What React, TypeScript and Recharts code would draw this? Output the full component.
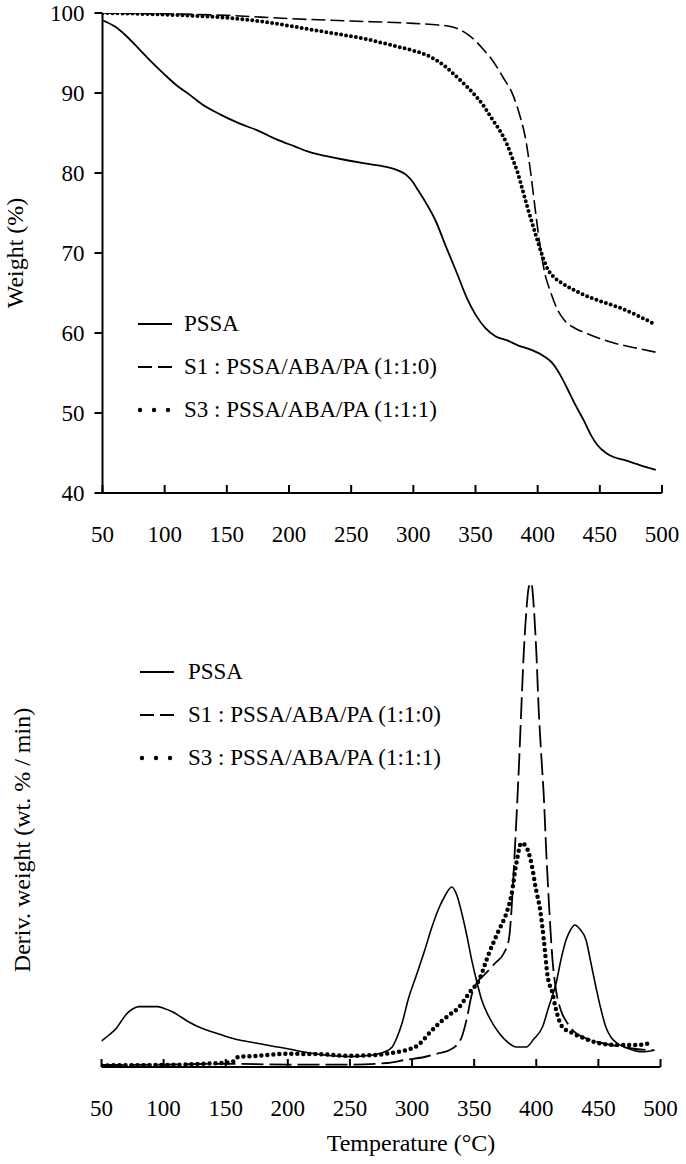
import React from "react";
import { LineChart, Line, XAxis, YAxis, Legend } from "recharts";

const FONT = '"Liberation Serif", "Times New Roman", serif';

// axis ticks
const TEMP_TICKS = [50, 100, 150, 200, 250, 300, 350, 400, 450, 500];
const WEIGHT_TICKS = [40, 50, 60, 70, 80, 90, 100];

const SERIES_NAMES = [
  "PSSA",
  "S1 : PSSA/ABA/PA (1:1:0)",
  "S3 : PSSA/ABA/PA (1:1:1)",
];

// TGA: [temperature °C, weight %]
const pssaWeight = [
  [50, 99.1], [60, 98.3], [70, 97.0], [80, 95.4], [90, 93.8], [100, 92.3],
  [110, 90.9], [120, 89.8], [130, 88.6], [145, 87.3], [160, 86.2], [175, 85.3],
  [190, 84.2], [205, 83.3], [215, 82.7], [230, 82.1], [250, 81.5], [265, 81.1],
  [280, 80.7], [288, 80.3], [294, 79.8], [299, 79.0], [304, 77.8], [310, 76.3],
  [318, 74.0], [326, 70.9], [335, 67.5], [343, 64.4], [350, 62.3], [358, 60.6],
  [366, 59.6], [375, 59.1], [385, 58.4], [395, 57.9], [405, 57.1], [412, 56.2],
  [418, 54.8], [424, 53.0], [430, 51.1], [437, 49.1], [443, 47.2], [448, 46.0],
  [455, 45.0], [461, 44.5], [470, 44.1], [480, 43.6], [488, 43.2], [495, 42.9],
];

const s1Weight = [
  [50, 100.0], [100, 99.9], [150, 99.7], [200, 99.3], [250, 99.0], [300, 98.7],
  [320, 98.5], [330, 98.3], [340, 97.7], [348, 96.8], [356, 95.5], [364, 94.0],
  [372, 92.0], [380, 89.8], [386, 87.0], [390, 84.5], [394, 80.5], [398, 75.5],
  [402, 70.8], [406, 67.3], [410, 65.3], [416, 62.9], [422, 61.5], [430, 60.6],
  [440, 59.9], [450, 59.3], [465, 58.6], [480, 58.1], [495, 57.6],
];

const s3Weight = [
  [50, 100.0], [100, 99.8], [150, 99.4], [180, 98.9], [200, 98.4], [230, 97.6],
  [260, 96.8], [287, 95.8], [300, 95.3], [314, 94.5], [325, 93.4], [335, 92.0],
  [348, 90.0], [356, 88.5], [364, 86.6], [370, 85.2], [375, 83.7], [380, 81.7],
  [384, 80.0], [388, 77.8], [392, 75.6], [398, 72.5], [403, 70.0], [408, 68.0],
  [413, 67.0], [420, 66.2], [434, 65.0], [450, 64.0], [467, 63.1], [480, 62.2],
  [493, 61.2],
];

// DTG: [temperature °C, deriv. weight]
const pssaDeriv = [
  [50, 0.65], [56, 0.8], [62, 0.97], [66, 1.15], [70, 1.32], [75, 1.45],
  [80, 1.51], [95, 1.51], [100, 1.47], [107, 1.38], [114, 1.25], [120, 1.13],
  [127, 1.02], [134, 0.93], [145, 0.82], [160, 0.68], [174, 0.6], [188, 0.52],
  [201, 0.45], [212, 0.38], [222, 0.33], [235, 0.28], [250, 0.26], [268, 0.3],
  [278, 0.38], [284, 0.5], [288, 0.75], [292, 1.1], [297, 1.7], [303, 2.25],
  [310, 2.9], [316, 3.5], [322, 4.0], [326, 4.25], [332, 4.5], [336, 4.3],
  [340, 3.85], [344, 3.3], [348, 2.68], [352, 2.15], [356, 1.68], [362, 1.25],
  [370, 0.85], [377, 0.62], [384, 0.5], [392, 0.5], [398, 0.7], [405, 1.0],
  [410, 1.5], [416, 2.1], [420, 2.7], [424, 3.18], [428, 3.45], [431, 3.55],
  [435, 3.45], [440, 3.18], [444, 2.6], [448, 2.0], [452, 1.45], [456, 1.0],
  [460, 0.75], [465, 0.6], [475, 0.45], [485, 0.38], [495, 0.42],
];

const s1Deriv = [
  [50, 0.05], [100, 0.06], [150, 0.08], [200, 0.06], [250, 0.06], [280, 0.1],
  [295, 0.18], [310, 0.25], [322, 0.35], [330, 0.42], [336, 0.55], [340, 0.75],
  [344, 1.2], [348, 1.8], [352, 2.1], [358, 2.3], [367, 2.6], [374, 2.85],
  [378, 3.2], [380, 3.9], [382, 5.0], [384, 6.2], [386, 7.5], [388, 9.0],
  [390, 10.4], [392, 11.4], [394, 12.0], [396, 12.1], [398, 11.5], [400, 10.4],
  [402, 8.9], [404, 7.8], [406, 6.8], [408, 5.4], [410, 4.2], [413, 2.7],
  [416, 1.9], [420, 1.4], [425, 1.1], [430, 0.9], [440, 0.72], [450, 0.62],
  [460, 0.55], [470, 0.5], [480, 0.45], [495, 0.42],
];

const s3Deriv = [
  [50, 0.04], [100, 0.05], [130, 0.08], [155, 0.12], [160, 0.25], [175, 0.28],
  [200, 0.33], [225, 0.32], [250, 0.28], [270, 0.3], [285, 0.36], [295, 0.42],
  [305, 0.55], [314, 0.85], [322, 1.1], [330, 1.3], [338, 1.5], [346, 1.85],
  [354, 2.18], [362, 2.85], [370, 3.43], [376, 3.85], [380, 4.3], [384, 5.1],
  [388, 5.6], [392, 5.5], [396, 5.1], [400, 4.4], [403, 3.95], [406, 3.2],
  [409, 2.3], [413, 1.85], [416, 1.42], [421, 1.0], [429, 0.85], [440, 0.7],
  [450, 0.6], [465, 0.55], [480, 0.55], [493, 0.6],
];

const toPoints = (pairs: number[][]) => pairs.map(([t, v]) => ({ t, v }));

// x ticks point up into the plot, labels sit well below the axis
const TempTick = ({ x, y, payload }: any) => (
  <g>
    <line x1={x} y1={y} x2={x} y2={y - 8} stroke="#000" strokeWidth={2} />
    <text
      x={x}
      y={y + 41}
      textAnchor="middle"
      dominantBaseline="central"
      fontFamily={FONT}
      fontSize={23}
      fill="#000"
    >
      {payload.value}
    </text>
  </g>
);

const verticalTitle = (text: string, dx: number, dy: number) => (props: any) => {
  const { viewBox } = props;
  const cx = viewBox.x + dx;
  const cy = viewBox.y + viewBox.height / 2 + dy;
  return (
    <text
      x={cx}
      y={cy}
      transform={`rotate(-90 ${cx} ${cy})`}
      textAnchor="middle"
      dominantBaseline="central"
      fontFamily={FONT}
      fontSize={24}
      fill="#000"
    >
      {text}
    </text>
  );
};

const tempTitle = (props: any) => {
  const { viewBox } = props;
  const cx = viewBox.x + viewBox.width / 2 + 30;
  const cy = viewBox.y + 76;
  return (
    <text
      x={cx}
      y={cy}
      textAnchor="middle"
      dominantBaseline="central"
      fontFamily={FONT}
      fontSize={24}
      fill="#000"
    >
      Temperature (°C)
    </text>
  );
};

const LegendSample = ({ index }: { index: number }) => {
  if (index === 0) {
    return <line x1={1} y1={6} x2={35} y2={6} stroke="#000" strokeWidth={2} />;
  }
  if (index === 1) {
    return (
      <line
        x1={1}
        y1={6}
        x2={35}
        y2={6}
        stroke="#000"
        strokeWidth={2}
        strokeDasharray="14 6"
      />
    );
  }
  return (
    <g fill="#000">
      <circle cx={3} cy={6} r={2.2} />
      <circle cx={17} cy={6} r={2.2} />
      <circle cx={31} cy={6} r={2.2} />
    </g>
  );
};

const renderLegend = (gap: number) => () => (
  <div style={{ fontFamily: FONT, fontSize: 23, color: "#000" }}>
    {SERIES_NAMES.map((name, i) => (
      <div
        key={name}
        style={{ display: "flex", alignItems: "center", height: 43, whiteSpace: "nowrap" }}
      >
        <svg width={38} height={12}>
          <LegendSample index={i} />
        </svg>
        <span style={{ marginLeft: gap }}>{name}</span>
      </div>
    ))}
  </div>
);

const axisStroke = { stroke: "#000", strokeWidth: 2 };

const App: React.FC = () => {
  return (
    <div
      style={{
        position: "absolute",
        left: 0,
        top: 0,
        width: 686,
        height: 1164,
        background: "#fff",
      }}
    >
      {/* TGA */}
      <div style={{ position: "absolute", left: 0, top: 0 }}>
        <LineChart
          width={686}
          height={550}
          margin={{ top: 13, right: 24, bottom: 0, left: 0 }}
        >
          <XAxis
            dataKey="t"
            type="number"
            domain={[50, 500]}
            ticks={TEMP_TICKS}
            allowDataOverflow
            height={57}
            axisLine={axisStroke}
            tickLine={false}
            tickSize={0}
            tickMargin={0}
            tick={TempTick}
            interval={0}
          />
          <YAxis
            dataKey="v"
            type="number"
            domain={[40, 100]}
            ticks={WEIGHT_TICKS}
            allowDataOverflow
            width={102.5}
            axisLine={axisStroke}
            tickLine={axisStroke}
            tickSize={8}
            tickMargin={10}
            interval={0}
            tick={{ fill: "#000", fontSize: 23, fontFamily: FONT }}
            label={{ content: verticalTitle("Weight (%)", 15, 0) }}
          />
          <Legend
            layout="horizontal"
            verticalAlign="middle"
            align="center"
            content={renderLegend(9)}
            wrapperStyle={{ left: 137, top: 302, width: "auto", height: "auto" }}
          />
          <Line
            data={toPoints(pssaWeight)}
            dataKey="v"
            name={SERIES_NAMES[0]}
            type="monotone"
            stroke="#000"
            strokeWidth={1.8}
            dot={false}
            activeDot={false}
            isAnimationActive={false}
          />
          <Line
            data={toPoints(s1Weight)}
            dataKey="v"
            name={SERIES_NAMES[1]}
            type="monotone"
            stroke="#000"
            strokeWidth={1.6}
            strokeDasharray="14 5"
            dot={false}
            activeDot={false}
            isAnimationActive={false}
          />
          <Line
            data={toPoints(s3Weight)}
            dataKey="v"
            name={SERIES_NAMES[2]}
            type="monotone"
            stroke="#000"
            strokeWidth={4}
            strokeDasharray="0 5"
            strokeLinecap="round"
            dot={false}
            activeDot={false}
            isAnimationActive={false}
          />
        </LineChart>
      </div>

      {/* DTG */}
      <div style={{ position: "absolute", left: 0, top: 550 }}>
        <LineChart
          width={686}
          height={614}
          margin={{ top: 17, right: 25.5, bottom: 0, left: 0 }}
        >
          <XAxis
            dataKey="t"
            type="number"
            domain={[50, 500]}
            ticks={TEMP_TICKS}
            allowDataOverflow
            height={97}
            axisLine={axisStroke}
            tickLine={false}
            tickSize={0}
            tickMargin={0}
            tick={TempTick}
            interval={0}
            label={{ content: tempTitle }}
          />
          <YAxis
            dataKey="v"
            type="number"
            domain={[0, 12.5]}
            allowDataOverflow
            width={101.5}
            axisLine={false}
            tickLine={false}
            tick={false}
            label={{ content: verticalTitle("Deriv. weight (wt. % / min)", 22, 23) }}
          />
          <Legend
            layout="horizontal"
            verticalAlign="middle"
            align="center"
            content={renderLegend(11)}
            wrapperStyle={{ left: 139, top: 100, width: "auto", height: "auto" }}
          />
          <Line
            data={toPoints(pssaDeriv)}
            dataKey="v"
            name={SERIES_NAMES[0]}
            type="monotone"
            stroke="#000"
            strokeWidth={1.6}
            dot={false}
            activeDot={false}
            isAnimationActive={false}
          />
          <Line
            data={toPoints(s1Deriv)}
            dataKey="v"
            name={SERIES_NAMES[1]}
            type="monotone"
            stroke="#000"
            strokeWidth={1.8}
            strokeDasharray="22 6"
            dot={false}
            activeDot={false}
            isAnimationActive={false}
          />
          <Line
            data={toPoints(s3Deriv)}
            dataKey="v"
            name={SERIES_NAMES[2]}
            type="monotone"
            stroke="#000"
            strokeWidth={4.5}
            strokeDasharray="0 6"
            strokeLinecap="round"
            dot={false}
            activeDot={false}
            isAnimationActive={false}
          />
        </LineChart>
      </div>
    </div>
  );
};

export default App;
